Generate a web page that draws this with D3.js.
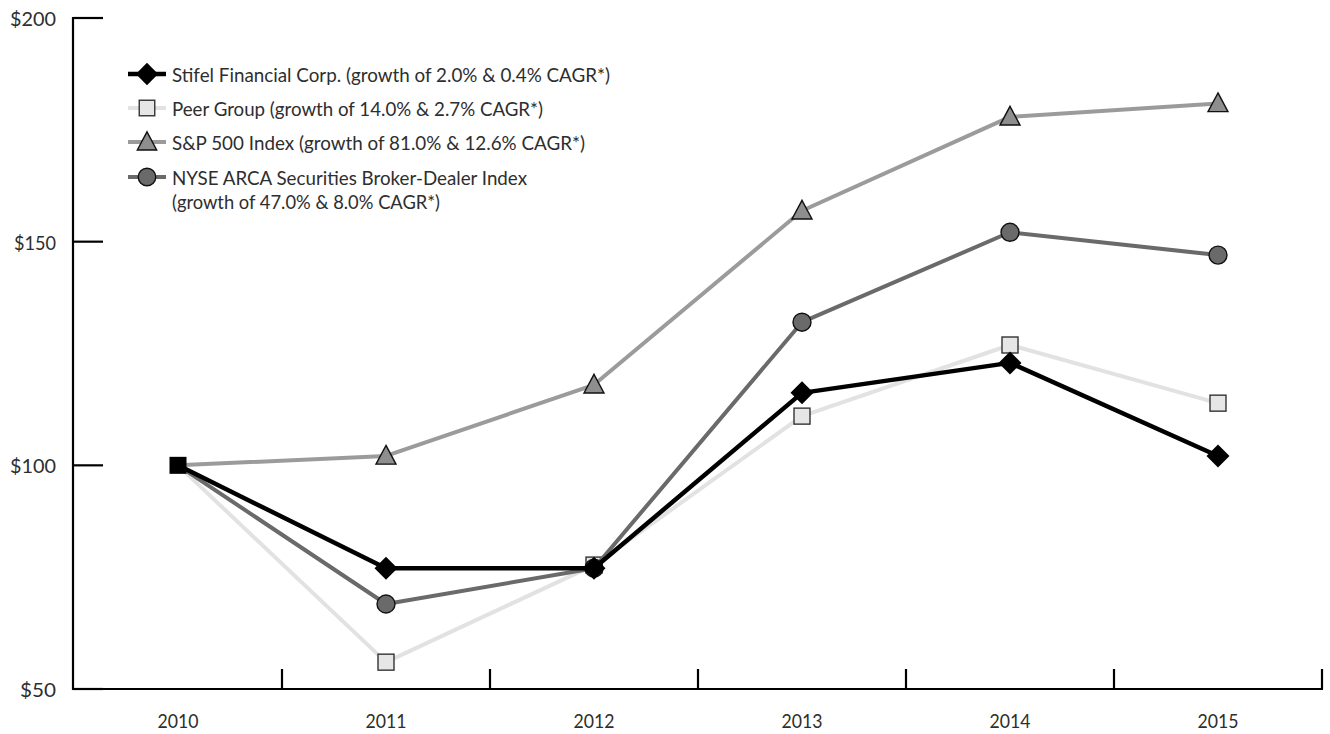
<!DOCTYPE html>
<html><head><meta charset="utf-8">
<script src="https://cdn.jsdelivr.net/npm/d3@7"></script>
<style>
html,body{margin:0;padding:0;background:#fff;}
svg text{font-family:"Lato","Open Sans",sans-serif;font-weight:400;fill:#2e2e2e;}
</style></head>
<body><svg id="c" width="1330" height="734"></svg>
<script>
const years = ["2010","2011","2012","2013","2014","2015"];
const yTicks = [50,100,150,200];
const stifel = [100,77.0,77.0,116.2,122.9,102.1];
const peer = [100,56.0,77.7,111.0,126.9,113.9];
const sp500 = [100,102.1,118.0,156.9,177.9,180.9];
const nyse = [100,69.0,77.0,132.0,152.1,147.0];
const labels = [
  ["Stifel Financial Corp. (growth of 2.0% & 0.4% CAGR*)"],
  ["Peer Group (growth of 14.0% & 2.7% CAGR*)"],
  ["S&P 500 Index (growth of 81.0% & 12.6% CAGR*)"],
  ["NYSE ARCA Securities Broker-Dealer Index","(growth of 47.0% & 8.0% CAGR*)"]
];

(function(){
const series = [
  {name:"sp", values:sp500, line:"#9b9b9b", fill:"#8e8e8e", shape:"triangle", lw:4, leg:2},
  {name:"peer", values:peer, line:"#e2e2e2", fill:"#e6e6e6", shape:"square", lw:4, leg:1},
  {name:"nyse", values:nyse, line:"#6a6a6a", fill:"#6a6a6a", shape:"circle", lw:4, leg:3},
  {name:"stifel", values:stifel, line:"#000", fill:"#000", shape:"diamond", lw:4.5, leg:0}
];
const legWidths = [[438],[371],[413],[355,268]];

const svg = d3.select("#c");
const axX = 73, mL = 74, mR = 1322, mT = 18, mB = 689;
const x = d3.scaleBand().domain(years).range([mL, mR]);
const y = d3.scaleLinear().domain([50,200]).range([mB, mT]);
const cx = d => x(d) + x.bandwidth()/2;

const ax = svg.append("g").attr("stroke","#000").attr("stroke-width",2.2).attr("fill","none");
ax.append("line").attr("x1",axX).attr("x2",axX).attr("y1",mT-1).attr("y2",mB+1);
ax.append("line").attr("x1",axX-1).attr("x2",mR+1).attr("y1",mB).attr("y2",mB);
yTicks.forEach(t=>{
  ax.append("line").attr("x1",axX).attr("x2",axX+30).attr("y1",y(t)).attr("y2",y(t));
  svg.append("text").attr("x",56).attr("y",y(t)+8).attr("text-anchor","end")
    .attr("font-size",19.5).attr("textLength",t===50?36:(t===150?42:46))
    .attr("lengthAdjust","spacingAndGlyphs").text("$"+t);
});
years.forEach((yr,i)=>{
  const xb = x(yr)+x.bandwidth();
  ax.append("line").attr("x1",xb).attr("x2",xb).attr("y1",mB).attr("y2",mB-20);
  svg.append("text").attr("x",cx(yr)).attr("y",728).attr("text-anchor","middle")
    .attr("font-size",19).attr("textLength",41).attr("lengthAdjust","spacingAndGlyphs").text(yr);
});

function marker(g, shape, px, py, fill, scale){
  scale = scale||1;
  if(shape==="diamond"){
    const s=11.5*scale;
    g.append("path").attr("d",`M${px},${py-s}L${px+s},${py}L${px},${py+s}L${px-s},${py}Z`).attr("fill",fill);
  } else if(shape==="square"){
    const s=8*scale;
    g.append("rect").attr("x",px-s).attr("y",py-s).attr("width",2*s).attr("height",2*s)
      .attr("fill",fill).attr("stroke","#333").attr("stroke-width",1.4);
  } else if(shape==="triangle"){
    const s=10.5*scale;
    g.append("path").attr("d",`M${px},${py-s}L${px+s*0.95},${py+s*0.78}L${px-s*0.95},${py+s*0.78}Z`)
      .attr("fill",fill).attr("stroke","#111").attr("stroke-width",1.4);
  } else {
    g.append("circle").attr("cx",px).attr("cy",py).attr("r",9*scale)
      .attr("fill",fill).attr("stroke","#111").attr("stroke-width",1.4);
  }
}

const line = d3.line().x((d,i)=>cx(years[i])).y(d=>y(d));
series.forEach(s=>{
  const g = svg.append("g");
  g.append("path").attr("d",line(s.values)).attr("fill","none").attr("stroke",s.line)
    .attr("stroke-width",s.lw).attr("stroke-linejoin","round");
  s.values.forEach((v,i)=>{ if(i>0) marker(g,s.shape,cx(years[i]),y(v),s.fill); });
});
svg.append("rect").attr("x",cx(years[0])-8.5).attr("y",y(stifel[0])-8.5).attr("width",17).attr("height",17).attr("fill","#000");

const legY = [74,108,142,177];
const ordered = series.slice().sort((a,b)=>a.leg-b.leg);
ordered.forEach((s,i)=>{
  const g = svg.append("g");
  const ly = legY[i];
  g.append("line").attr("x1",128).attr("x2",166).attr("y1",ly).attr("y2",ly)
    .attr("stroke",s.line).attr("stroke-width",s.lw);
  marker(g,s.shape,147,ly,s.fill,0.97);
  labels[i].forEach((t,j)=>{
    g.append("text").attr("x",172).attr("y",ly+8+j*24).attr("font-size",20)
      .attr("textLength",legWidths[i][j]).attr("lengthAdjust","spacingAndGlyphs").text(t);
  });
});
})();
</script></body></html>
